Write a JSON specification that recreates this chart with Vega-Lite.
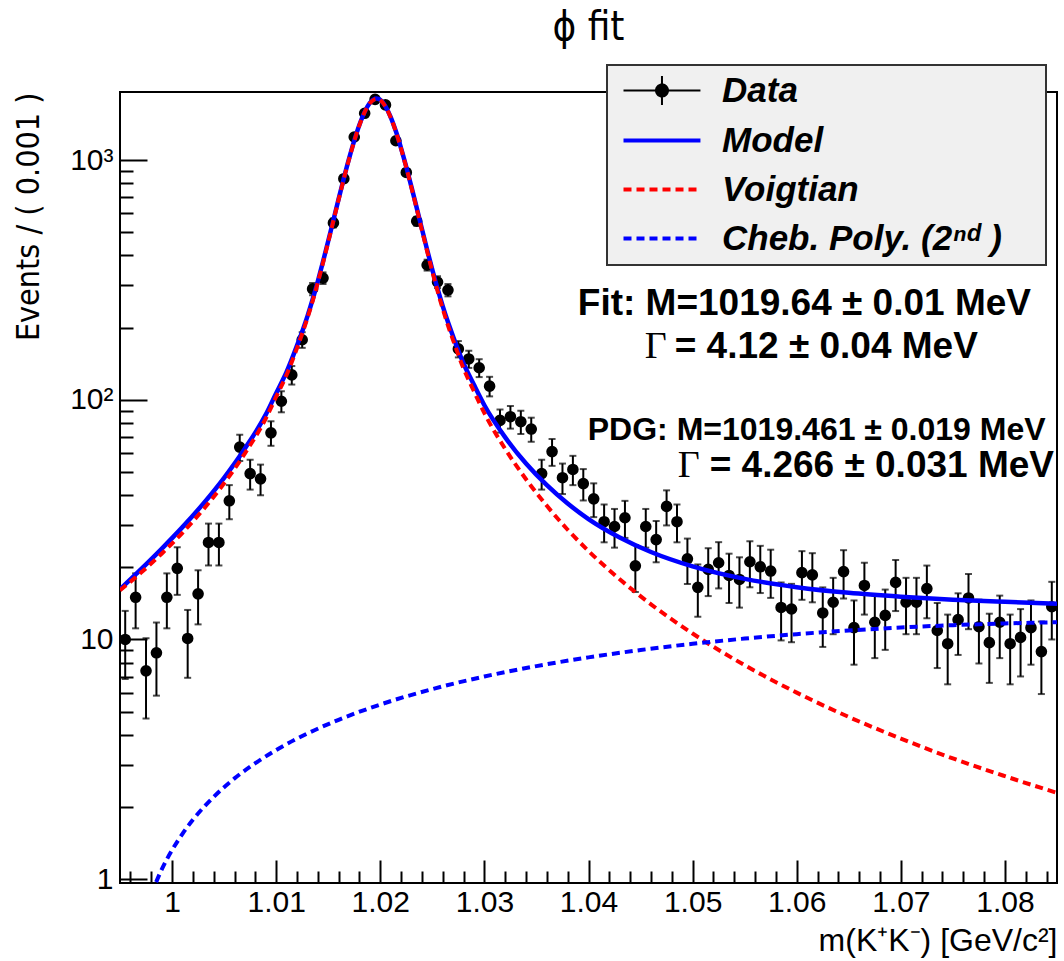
{
  "$schema": "https://vega.github.io/schema/vega-lite/v6.json",
  "width": 937,
  "height": 791,
  "autosize": {"type": "none"},
  "padding": {"left": 120, "top": 92, "right": 7, "bottom": 78},
  "background": "white",
  "title": {"text": "ϕ fit", "anchor": "middle", "font": "DejaVu Sans Condensed, Liberation Sans", "fontSize": 40, "fontWeight": "normal", "color": "black", "baseline": "alphabetic", "offset": -16, "frame": "group"},
  "config": {
    "view": {"stroke": "black", "strokeWidth": 2},
    "font": "Liberation Sans"
  },
  "datasets": {
    "hist": [
      {"m":0.9955,"n":10.0,"lo":6.84,"hi":13.16},
      {"m":0.9965,"n":15.0,"lo":11.13,"hi":18.87},
      {"m":0.9975,"n":7.4,"lo":4.68,"hi":10.12},
      {"m":0.9985,"n":8.8,"lo":5.83,"hi":11.77},
      {"m":0.9995,"n":15.0,"lo":11.13,"hi":18.87},
      {"m":1.0005,"n":19.8,"lo":15.35,"hi":24.25},
      {"m":1.0015,"n":10.1,"lo":6.92,"hi":13.28},
      {"m":1.0025,"n":15.5,"lo":11.56,"hi":19.44},
      {"m":1.0035,"n":25.4,"lo":20.36,"hi":30.44},
      {"m":1.0045,"n":25.4,"lo":20.36,"hi":30.44},
      {"m":1.0055,"n":37.9,"lo":31.74,"hi":44.06},
      {"m":1.0065,"n":63.5,"lo":55.53,"hi":71.47},
      {"m":1.0075,"n":49.2,"lo":42.19,"hi":56.21},
      {"m":1.0085,"n":46.8,"lo":39.96,"hi":53.64},
      {"m":1.0095,"n":72.8,"lo":64.27,"hi":81.33},
      {"m":1.0105,"n":98.6,"lo":88.67,"hi":108.53},
      {"m":1.0115,"n":127,"lo":115.73,"hi":138.27},
      {"m":1.0125,"n":178,"lo":164.66,"hi":191.34},
      {"m":1.0135,"n":290,"lo":272.97,"hi":307.03},
      {"m":1.0145,"n":322,"lo":304.06,"hi":339.94},
      {"m":1.0155,"n":547,"lo":523.61,"hi":570.39},
      {"m":1.0165,"n":836,"lo":807.09,"hi":864.91},
      {"m":1.0175,"n":1248,"lo":1212.67,"hi":1283.33},
      {"m":1.0185,"n":1567,"lo":1527.41,"hi":1606.59},
      {"m":1.0195,"n":1792,"lo":1749.67,"hi":1834.33},
      {"m":1.0205,"n":1699,"lo":1657.78,"hi":1740.22},
      {"m":1.0215,"n":1204,"lo":1169.3,"hi":1238.7},
      {"m":1.0225,"n":888,"lo":858.2,"hi":917.8},
      {"m":1.0235,"n":556,"lo":532.42,"hi":579.58},
      {"m":1.0245,"n":365,"lo":345.9,"hi":384.1},
      {"m":1.0255,"n":310,"lo":292.39,"hi":327.61},
      {"m":1.0265,"n":287,"lo":270.06,"hi":303.94},
      {"m":1.0275,"n":163,"lo":150.23,"hi":175.77},
      {"m":1.0285,"n":148,"lo":135.83,"hi":160.17},
      {"m":1.0295,"n":136,"lo":124.34,"hi":147.66},
      {"m":1.0305,"n":114,"lo":103.32,"hi":124.68},
      {"m":1.0315,"n":82,"lo":72.94,"hi":91.06},
      {"m":1.0325,"n":85,"lo":75.78,"hi":94.22},
      {"m":1.0335,"n":81,"lo":72.0,"hi":90.0},
      {"m":1.0345,"n":75.5,"lo":66.81,"hi":84.19},
      {"m":1.0355,"n":49.2,"lo":42.19,"hi":56.21},
      {"m":1.0365,"n":60.8,"lo":53.0,"hi":68.6},
      {"m":1.0375,"n":47.3,"lo":40.42,"hi":54.18},
      {"m":1.0385,"n":51.2,"lo":44.04,"hi":58.36},
      {"m":1.0395,"n":44.7,"lo":38.01,"hi":51.39},
      {"m":1.0405,"n":38.6,"lo":32.39,"hi":44.81},
      {"m":1.0415,"n":31.0,"lo":25.43,"hi":36.57},
      {"m":1.0425,"n":29.6,"lo":24.16,"hi":35.04},
      {"m":1.0435,"n":32.2,"lo":26.53,"hi":37.87},
      {"m":1.0445,"n":20.3,"lo":15.79,"hi":24.81},
      {"m":1.0455,"n":29.6,"lo":24.16,"hi":35.04},
      {"m":1.0465,"n":26.1,"lo":20.99,"hi":31.21},
      {"m":1.0475,"n":35.9,"lo":29.91,"hi":41.89},
      {"m":1.0485,"n":31.0,"lo":25.43,"hi":36.57},
      {"m":1.0495,"n":21.7,"lo":17.04,"hi":26.36},
      {"m":1.0505,"n":16.5,"lo":12.44,"hi":20.56},
      {"m":1.0515,"n":19.6,"lo":15.17,"hi":24.03},
      {"m":1.0525,"n":20.9,"lo":16.33,"hi":25.47},
      {"m":1.0535,"n":18.5,"lo":14.2,"hi":22.8},
      {"m":1.0545,"n":17.8,"lo":13.58,"hi":22.02},
      {"m":1.0555,"n":21.1,"lo":16.51,"hi":25.69},
      {"m":1.0565,"n":20.1,"lo":15.62,"hi":24.58},
      {"m":1.0575,"n":19.3,"lo":14.91,"hi":23.69},
      {"m":1.0585,"n":13.6,"lo":9.91,"hi":17.29},
      {"m":1.0595,"n":13.4,"lo":9.74,"hi":17.06},
      {"m":1.0605,"n":19.0,"lo":14.64,"hi":23.36},
      {"m":1.0615,"n":18.6,"lo":14.29,"hi":22.91},
      {"m":1.0625,"n":12.9,"lo":9.31,"hi":16.49},
      {"m":1.0635,"n":14.3,"lo":10.52,"hi":18.08},
      {"m":1.0645,"n":19.2,"lo":14.82,"hi":23.58},
      {"m":1.0655,"n":11.2,"lo":7.85,"hi":14.55},
      {"m":1.0665,"n":16.8,"lo":12.7,"hi":20.9},
      {"m":1.0675,"n":11.8,"lo":8.36,"hi":15.24},
      {"m":1.0685,"n":12.6,"lo":9.05,"hi":16.15},
      {"m":1.0695,"n":17.3,"lo":13.14,"hi":21.46},
      {"m":1.0705,"n":14.3,"lo":10.52,"hi":18.08},
      {"m":1.0715,"n":14.3,"lo":10.52,"hi":18.08},
      {"m":1.0725,"n":16.3,"lo":12.26,"hi":20.34},
      {"m":1.0735,"n":10.9,"lo":7.6,"hi":14.2},
      {"m":1.0745,"n":9.6,"lo":6.5,"hi":12.7},
      {"m":1.0755,"n":12.1,"lo":8.62,"hi":15.58},
      {"m":1.0765,"n":14.9,"lo":11.04,"hi":18.76},
      {"m":1.0775,"n":11.3,"lo":7.94,"hi":14.66},
      {"m":1.0785,"n":9.7,"lo":6.59,"hi":12.81},
      {"m":1.0795,"n":11.8,"lo":8.36,"hi":15.24},
      {"m":1.0805,"n":9.6,"lo":6.5,"hi":12.7},
      {"m":1.0815,"n":10.2,"lo":7.01,"hi":13.39},
      {"m":1.0825,"n":11.2,"lo":7.85,"hi":14.55},
      {"m":1.0835,"n":8.9,"lo":5.92,"hi":11.88},
      {"m":1.0845,"n":13.7,"lo":10.0,"hi":17.4}
    ],
    "curves": [
      {"series":"Model","m":0.995,"v":16.19},{"series":"Model","m":0.997,"v":19.6},{"series":"Model","m":0.999,"v":23.89},
      {"series":"Model","m":1.001,"v":29.42},{"series":"Model","m":1.003,"v":36.86},{"series":"Model","m":1.005,"v":47.27},
      {"series":"Model","m":1.007,"v":62.61},{"series":"Model","m":1.009,"v":86.72},{"series":"Model","m":1.01,"v":106.5},
      {"series":"Model","m":1.011,"v":130.7},{"series":"Model","m":1.012,"v":168.2},{"series":"Model","m":1.013,"v":222.9},
      {"series":"Model","m":1.0135,"v":262.0},{"series":"Model","m":1.014,"v":312.3},{"series":"Model","m":1.0145,"v":377.1},
      {"series":"Model","m":1.015,"v":459.4},{"series":"Model","m":1.0155,"v":562.5},{"series":"Model","m":1.016,"v":689.0},
      {"series":"Model","m":1.0165,"v":839.8},{"series":"Model","m":1.017,"v":1013.7},{"series":"Model","m":1.0175,"v":1205.5},
      {"series":"Model","m":1.018,"v":1404},{"series":"Model","m":1.0185,"v":1589},{"series":"Model","m":1.019,"v":1732},
      {"series":"Model","m":1.0195,"v":1802},{"series":"Model","m":1.01964,"v":1806},{"series":"Model","m":1.02,"v":1782},
      {"series":"Model","m":1.0205,"v":1676},{"series":"Model","m":1.021,"v":1512},{"series":"Model","m":1.0215,"v":1318},
      {"series":"Model","m":1.022,"v":1120},{"series":"Model","m":1.0225,"v":935.6},{"series":"Model","m":1.023,"v":771.5},
      {"series":"Model","m":1.0235,"v":631.8},{"series":"Model","m":1.024,"v":515.9},{"series":"Model","m":1.0245,"v":422.6},
      {"series":"Model","m":1.025,"v":348.5},{"series":"Model","m":1.0255,"v":290.7},{"series":"Model","m":1.026,"v":245.9},
      {"series":"Model","m":1.0265,"v":210.9},{"series":"Model","m":1.027,"v":183.5},{"series":"Model","m":1.028,"v":141.7},
      {"series":"Model","m":1.029,"v":115.4},{"series":"Model","m":1.03,"v":94.9},{"series":"Model","m":1.032,"v":69.7},
      {"series":"Model","m":1.034,"v":54.2},{"series":"Model","m":1.036,"v":44.0},{"series":"Model","m":1.038,"v":36.9},
      {"series":"Model","m":1.04,"v":31.8},{"series":"Model","m":1.043,"v":26.63},{"series":"Model","m":1.046,"v":23.17},
      {"series":"Model","m":1.05,"v":20.18},{"series":"Model","m":1.055,"v":17.9},{"series":"Model","m":1.06,"v":16.53},
      {"series":"Model","m":1.065,"v":15.65},{"series":"Model","m":1.07,"v":15.08},{"series":"Model","m":1.075,"v":14.66},
      {"series":"Model","m":1.08,"v":14.36},{"series":"Model","m":1.085,"v":14.09},

      {"series":"Voigtian","m":0.995,"v":16.03},{"series":"Voigtian","m":0.997,"v":18.97},{"series":"Voigtian","m":0.999,"v":22.79},
      {"series":"Voigtian","m":1.001,"v":27.87},{"series":"Voigtian","m":1.003,"v":34.87},{"series":"Voigtian","m":1.005,"v":44.85},
      {"series":"Voigtian","m":1.007,"v":59.77},{"series":"Voigtian","m":1.009,"v":83.46},{"series":"Voigtian","m":1.01,"v":103},
      {"series":"Voigtian","m":1.011,"v":127},{"series":"Voigtian","m":1.012,"v":164.3},{"series":"Voigtian","m":1.013,"v":218.8},
      {"series":"Voigtian","m":1.0135,"v":257.8},{"series":"Voigtian","m":1.014,"v":308.1},{"series":"Voigtian","m":1.0145,"v":372.8},
      {"series":"Voigtian","m":1.015,"v":455.0},{"series":"Voigtian","m":1.0155,"v":558.0},{"series":"Voigtian","m":1.016,"v":684.4},
      {"series":"Voigtian","m":1.0165,"v":835.1},{"series":"Voigtian","m":1.017,"v":1008.9},{"series":"Voigtian","m":1.0175,"v":1200.6},
      {"series":"Voigtian","m":1.018,"v":1399},{"series":"Voigtian","m":1.0185,"v":1584},{"series":"Voigtian","m":1.019,"v":1727},
      {"series":"Voigtian","m":1.0195,"v":1797},{"series":"Voigtian","m":1.01964,"v":1801},{"series":"Voigtian","m":1.02,"v":1777},
      {"series":"Voigtian","m":1.0205,"v":1671},{"series":"Voigtian","m":1.021,"v":1506},{"series":"Voigtian","m":1.0215,"v":1312},
      {"series":"Voigtian","m":1.022,"v":1114.5},{"series":"Voigtian","m":1.0225,"v":929.8},{"series":"Voigtian","m":1.023,"v":765.6},
      {"series":"Voigtian","m":1.0235,"v":625.8},{"series":"Voigtian","m":1.024,"v":509.9},{"series":"Voigtian","m":1.0245,"v":416.5},
      {"series":"Voigtian","m":1.025,"v":342.3},{"series":"Voigtian","m":1.0255,"v":284.4},{"series":"Voigtian","m":1.026,"v":239.5},
      {"series":"Voigtian","m":1.0265,"v":204.4},{"series":"Voigtian","m":1.027,"v":177},{"series":"Voigtian","m":1.028,"v":135},
      {"series":"Voigtian","m":1.029,"v":108.5},{"series":"Voigtian","m":1.03,"v":87.9},{"series":"Voigtian","m":1.032,"v":62.4},
      {"series":"Voigtian","m":1.034,"v":46.6},{"series":"Voigtian","m":1.036,"v":36.1},{"series":"Voigtian","m":1.038,"v":28.7},
      {"series":"Voigtian","m":1.04,"v":23.4},{"series":"Voigtian","m":1.043,"v":17.83},{"series":"Voigtian","m":1.046,"v":14.02},
      {"series":"Voigtian","m":1.05,"v":10.59},{"series":"Voigtian","m":1.055,"v":7.81},{"series":"Voigtian","m":1.06,"v":6.0},
      {"series":"Voigtian","m":1.065,"v":4.75},{"series":"Voigtian","m":1.07,"v":3.86},{"series":"Voigtian","m":1.075,"v":3.19},
      {"series":"Voigtian","m":1.08,"v":2.69},{"series":"Voigtian","m":1.085,"v":2.29},

      {"series":"Cheb","m":0.998,"v":0.866},{"series":"Cheb","m":0.999,"v":1.096},{"series":"Cheb","m":1.0,"v":1.322},
      {"series":"Cheb","m":1.001,"v":1.546},{"series":"Cheb","m":1.002,"v":1.769},{"series":"Cheb","m":1.004,"v":2.205},
      {"series":"Cheb","m":1.006,"v":2.633},{"series":"Cheb","m":1.008,"v":3.049},{"series":"Cheb","m":1.01,"v":3.458},
      {"series":"Cheb","m":1.013,"v":4.052},{"series":"Cheb","m":1.016,"v":4.624},{"series":"Cheb","m":1.02,"v":5.353},
      {"series":"Cheb","m":1.025,"v":6.209},{"series":"Cheb","m":1.03,"v":7.007},{"series":"Cheb","m":1.035,"v":7.743},
      {"series":"Cheb","m":1.04,"v":8.42},{"series":"Cheb","m":1.045,"v":9.037},{"series":"Cheb","m":1.05,"v":9.593},
      {"series":"Cheb","m":1.055,"v":10.089},{"series":"Cheb","m":1.06,"v":10.525},{"series":"Cheb","m":1.065,"v":10.901},
      {"series":"Cheb","m":1.07,"v":11.216},{"series":"Cheb","m":1.075,"v":11.471},{"series":"Cheb","m":1.08,"v":11.666},
      {"series":"Cheb","m":1.085,"v":11.802}
    ]
  },
  "layer": [
    {
      "data": {"name": "hist"},
      "mark": {"type": "rule", "color": "black", "strokeWidth": 2},
      "encoding": {
        "x": {"field": "m", "type": "quantitative", "title": "m(K⁺K⁻) [GeV/c²]",
          "scale": {"domain": [0.995, 1.085], "nice": false, "zero": false},
          "axis": {
            "values": [0.996,0.998,1,1.002,1.004,1.006,1.008,1.01,1.012,1.014,1.016,1.018,1.02,1.022,1.024,1.026,1.028,1.03,1.032,1.034,1.036,1.038,1.04,1.042,1.044,1.046,1.048,1.05,1.052,1.054,1.056,1.058,1.06,1.062,1.064,1.066,1.068,1.07,1.072,1.074,1.076,1.078,1.08,1.082,1.084],
            "tickCount": 200,
            "domain": false, "grid": false,
            "tickColor": "black", "tickWidth": 2,
            "tickSize": {"condition": {"test": "abs(datum.value*100 - round(datum.value*100)) < 0.001", "value": -23}, "value": -12},
            "labelExpr": "abs(datum.value*100 - round(datum.value*100)) < 0.001 ? (datum.value == 1 ? '1' : format(datum.value, '.2f')) : ''",
            "labelFont": "Liberation Sans", "labelFontSize": 30, "labelColor": "black", "labelPadding": 27, "labelBaseline": "top",
            "labelFlush": false, "labelOverlap": false, "labelBound": false,
            "titleFont": "Liberation Sans", "titleFontSize": 32, "titleFontWeight": "normal", "titleColor": "black",
            "titleAnchor": "end", "titleAlign": "right", "titleX": 937, "titleY": 67, "titleBaseline": "alphabetic"
          }
        },
        "y": {"field": "lo", "type": "quantitative", "title": "Events / ( 0.001 )",
          "scale": {"type": "log", "domain": [0.964, 1923], "nice": false},
          "axis": {
            "values": [1,2,3,4,5,6,7,8,9,10,20,30,40,50,60,70,80,90,100,200,300,400,500,600,700,800,900,1000],
            "tickCount": 200,
            "domain": false, "grid": false,
            "tickColor": "black", "tickWidth": 2,
            "tickSize": {"condition": {"test": "indexof([1,10,100,1000], datum.value) >= 0", "value": -27}, "value": -13},
            "labelExpr": "datum.value == 1 ? '1' : datum.value == 10 ? '10' : datum.value == 100 ? '10²' : datum.value == 1000 ? '10³' : ''",
            "labelFont": "Liberation Sans", "labelFontSize": 30, "labelColor": "black", "labelPadding": 34,
            "labelFlush": false, "labelOverlap": false,
            "titleFont": "DejaVu Sans Condensed, Liberation Sans", "titleFontSize": 32, "titleFontWeight": "normal", "titleColor": "black",
            "titleAngle": -90, "titleAlign": "right", "titleX": -92, "titleY": 0, "titleBaseline": "middle", "titleAnchor": null
          }
        },
        "y2": {"field": "hi"}
      }
    },
    {
      "data": {"name": "hist"},
      "mark": {"type": "tick", "color": "black", "thickness": 2, "size": 7, "orient": "horizontal"},
      "encoding": {
        "x": {"field": "m", "type": "quantitative", "title": "m(K⁺K⁻) [GeV/c²]", "scale": {"domain": [0.995, 1.085], "nice": false, "zero": false}},
        "y": {"field": "hi", "type": "quantitative", "title": "Events / ( 0.001 )", "scale": {"type": "log", "domain": [0.964, 1923], "nice": false}}
      }
    },
    {
      "data": {"name": "hist"},
      "mark": {"type": "tick", "color": "black", "thickness": 2, "size": 7, "orient": "horizontal"},
      "encoding": {
        "x": {"field": "m", "type": "quantitative", "title": "m(K⁺K⁻) [GeV/c²]", "scale": {"domain": [0.995, 1.085], "nice": false, "zero": false}},
        "y": {"field": "lo", "type": "quantitative", "title": "Events / ( 0.001 )", "scale": {"type": "log", "domain": [0.964, 1923], "nice": false}}
      }
    },
    {
      "data": {"name": "hist"},
      "mark": {"type": "point", "filled": true, "size": 135, "color": "black", "opacity": 1},
      "encoding": {
        "x": {"field": "m", "type": "quantitative", "title": "m(K⁺K⁻) [GeV/c²]", "scale": {"domain": [0.995, 1.085], "nice": false, "zero": false}},
        "y": {"field": "n", "type": "quantitative", "title": "Events / ( 0.001 )", "scale": {"type": "log", "domain": [0.964, 1923], "nice": false}}
      }
    },
    {
      "data": {"name": "curves"},
      "transform": [{"filter": "datum.series == 'Model'"}],
      "mark": {"type": "line", "strokeWidth": 4.5, "interpolate": "monotone", "clip": true},
      "encoding": {
        "x": {"field": "m", "type": "quantitative", "title": "m(K⁺K⁻) [GeV/c²]", "scale": {"domain": [0.995, 1.085], "nice": false, "zero": false}},
        "y": {"field": "v", "type": "quantitative", "title": "Events / ( 0.001 )", "scale": {"type": "log", "domain": [0.964, 1923], "nice": false}},
        "color": {"field": "series", "type": "nominal",
          "scale": {"domain": ["Data", "Model", "Voigtian", "Cheb"], "range": ["black", "blue", "red", "blue"]},
          "legend": {
            "orient": "none", "legendX": 487, "legendY": -27, "title": null,
            "padding": 8, "fillColor": "#f0f0f0", "strokeColor": "#333333",
            "symbolSize": 900, "symbolStrokeWidth": 4,
            "labelFont": "Liberation Sans", "labelFontSize": 35, "labelFontWeight": "bold", "labelFontStyle": "italic", "labelColor": "black",
            "labelOffset": 72, "rowPadding": 13, "labelLimit": 700,
            "labelExpr": "datum.label == 'Cheb' ? 'Cheb. Poly. (2ⁿᵈ )\u00a0\u2800' : datum.label",
            "encode": {
              "symbols": {"update": {
                "shape": {"signal": "datum.value == 'Data' ? 'M-0.6,0H4.53M1.965,-0.97V0.97M2.365,0A0.4,0.4 0 1 1 1.565,0A0.4,0.4 0 1 1 2.365,0Z' : 'M-0.6,0H4.53'"},
                "stroke": {"signal": "datum.value == 'Data' ? 'black' : datum.value == 'Voigtian' ? 'red' : 'blue'"},
                "fill": {"signal": "datum.value == 'Data' ? 'black' : 'transparent'"},
                "strokeWidth": {"signal": "datum.value == 'Data' ? 2 : 4"},
                "strokeDash": {"signal": "datum.value == 'Voigtian' || datum.value == 'Cheb' ? [8,5] : [1,0]"},
                "opacity": {"value": 1}
              }},
              "legend": {"update": {"strokeWidth": {"value": 2}}}
            }
          }
        }
      }
    },
    {
      "data": {"name": "curves"},
      "transform": [{"filter": "datum.series == 'Voigtian'"}],
      "mark": {"type": "line", "strokeWidth": 4, "strokeDash": [8, 5], "interpolate": "monotone", "clip": true},
      "encoding": {
        "x": {"field": "m", "type": "quantitative", "title": "m(K⁺K⁻) [GeV/c²]", "scale": {"domain": [0.995, 1.085], "nice": false, "zero": false}},
        "y": {"field": "v", "type": "quantitative", "title": "Events / ( 0.001 )", "scale": {"type": "log", "domain": [0.964, 1923], "nice": false}},
        "color": {"field": "series", "type": "nominal"}
      }
    },
    {
      "data": {"name": "curves"},
      "transform": [{"filter": "datum.series == 'Cheb'"}],
      "mark": {"type": "line", "strokeWidth": 4, "strokeDash": [8, 5], "interpolate": "monotone", "clip": true},
      "encoding": {
        "x": {"field": "m", "type": "quantitative", "title": "m(K⁺K⁻) [GeV/c²]", "scale": {"domain": [0.995, 1.085], "nice": false, "zero": false}},
        "y": {"field": "v", "type": "quantitative", "title": "Events / ( 0.001 )", "scale": {"type": "log", "domain": [0.964, 1923], "nice": false}},
        "color": {"field": "series", "type": "nominal"}
      }
    },
    {
      "data": {"values": [{"label": "Fit: M=1019.64  ± 0.01 MeV"}]},
      "mark": {"type": "text", "align": "left", "baseline": "alphabetic", "font": "Liberation Sans", "fontSize": 37, "fontWeight": "bold", "color": "black"},
      "encoding": {
        "x": {"datum": 1.03897, "type": "quantitative", "scale": {"domain": [0.995, 1.085], "nice": false, "zero": false}},
        "y": {"datum": 225.9, "type": "quantitative", "scale": {"type": "log", "domain": [0.964, 1923], "nice": false}},
        "text": {"field": "label"}
      }
    },
    {
      "data": {"values": [{"label": "Γ"}]},
      "mark": {"type": "text", "align": "left", "baseline": "alphabetic", "font": "Liberation Serif", "fontSize": 38, "fontWeight": "normal", "color": "black"},
      "encoding": {
        "x": {"datum": 1.0454, "type": "quantitative", "scale": {"domain": [0.995, 1.085], "nice": false, "zero": false}},
        "y": {"datum": 149.4, "type": "quantitative", "scale": {"type": "log", "domain": [0.964, 1923], "nice": false}},
        "text": {"field": "label"}
      }
    },
    {
      "data": {"values": [{"label": "= 4.12  ± 0.04 MeV"}]},
      "mark": {"type": "text", "align": "left", "baseline": "alphabetic", "font": "Liberation Sans", "fontSize": 37, "fontWeight": "bold", "color": "black"},
      "encoding": {
        "x": {"datum": 1.04828, "type": "quantitative", "scale": {"domain": [0.995, 1.085], "nice": false, "zero": false}},
        "y": {"datum": 149.4, "type": "quantitative", "scale": {"type": "log", "domain": [0.964, 1923], "nice": false}},
        "text": {"field": "label"}
      }
    },
    {
      "data": {"values": [{"label": "PDG: M=1019.461  ± 0.019 MeV"}]},
      "mark": {"type": "text", "align": "left", "baseline": "alphabetic", "font": "Liberation Sans", "fontSize": 32, "fontWeight": "bold", "color": "black"},
      "encoding": {
        "x": {"datum": 1.03993, "type": "quantitative", "scale": {"domain": [0.995, 1.085], "nice": false, "zero": false}},
        "y": {"datum": 67.98, "type": "quantitative", "scale": {"type": "log", "domain": [0.964, 1923], "nice": false}},
        "text": {"field": "label"}
      }
    },
    {
      "data": {"values": [{"label": "Γ"}]},
      "mark": {"type": "text", "align": "left", "baseline": "alphabetic", "font": "Liberation Serif", "fontSize": 38, "fontWeight": "normal", "color": "black"},
      "encoding": {
        "x": {"datum": 1.04857, "type": "quantitative", "scale": {"domain": [0.995, 1.085], "nice": false, "zero": false}},
        "y": {"datum": 47.6, "type": "quantitative", "scale": {"type": "log", "domain": [0.964, 1923], "nice": false}},
        "text": {"field": "label"}
      }
    },
    {
      "data": {"values": [{"label": "= 4.266  ± 0.031 MeV"}]},
      "mark": {"type": "text", "align": "left", "baseline": "alphabetic", "font": "Liberation Sans", "fontSize": 37, "fontWeight": "bold", "color": "black"},
      "encoding": {
        "x": {"datum": 1.05164, "type": "quantitative", "scale": {"domain": [0.995, 1.085], "nice": false, "zero": false}},
        "y": {"datum": 47.6, "type": "quantitative", "scale": {"type": "log", "domain": [0.964, 1923], "nice": false}},
        "text": {"field": "label"}
      }
    }
  ]
}
